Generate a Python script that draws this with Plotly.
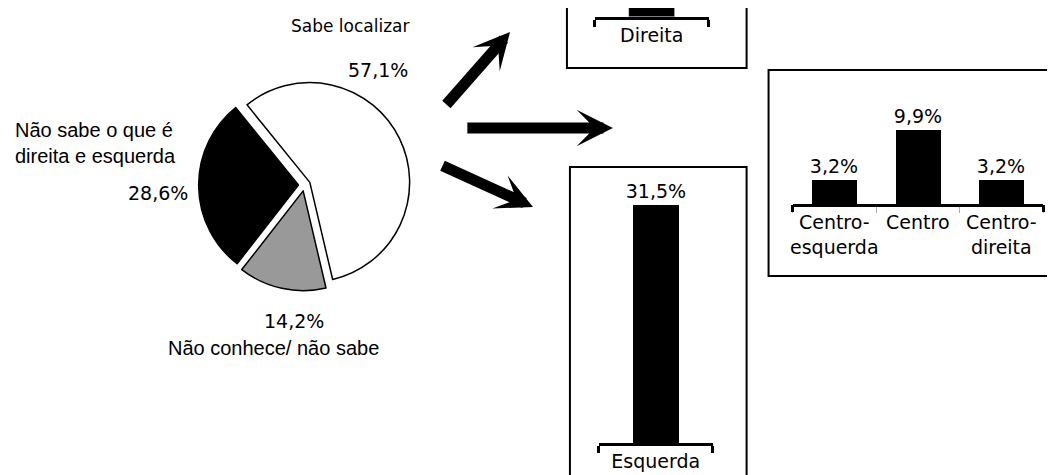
import plotly.graph_objects as go

W, H = 1055, 475

# pie: share that knows where to place itself
pie_labels = ["Sabe localizar", "Não conhece/ não sabe", "Não sabe o que é direita e esquerda"]
pie_values = [57.1, 14.2, 28.6]
pie_colors = ["white", "#999999", "black"]

# bars (same % scale in all three boxes)
esq_cat = ["Esquerda"]
esq_val = [31.5]
dir_cat = ["Direita"]
dir_val = [9.3]
centro_cat = ["Centro-<br>esquerda", "Centro", "Centro-<br>direita"]
centro_val = [3.2, 9.9, 3.2]

PCT_FONT = "DejaVu Sans"
LBL_FONT = "Liberation Sans"


def px(x):
    return x / W


def py(y):
    return 1 - y / H


fig = go.Figure()

fig.add_trace(go.Pie(
    labels=pie_labels, values=pie_values, sort=False, direction="clockwise",
    rotation=-39, pull=[0.06, 0.06, 0.06], textinfo="none", hoverinfo="label+percent",
    marker=dict(colors=pie_colors, line=dict(color="black", width=1.5)),
    domain=dict(x=[px(189), px(401)], y=[py(283), py(71)]),
    showlegend=False,
))

bar_style = dict(marker=dict(color="black", line=dict(width=0)), showlegend=False,
                 texttemplate="%{y:.1f}%", textposition="outside", cliponaxis=False,
                 constraintext="none",
                 textfont=dict(family=PCT_FONT, size=19, color="black"))

fig.add_trace(go.Bar(x=esq_cat, y=esq_val, width=0.4, xaxis="x", yaxis="y", **bar_style))
fig.add_trace(go.Bar(x=dir_cat, y=dir_val, width=0.4, xaxis="x2", yaxis="y2",
                     marker=dict(color="black"), showlegend=False))
fig.add_trace(go.Bar(x=centro_cat, y=centro_val, width=0.54, xaxis="x3", yaxis="y3", **bar_style))
# holder for the end brackets of the centro axis
fig.add_trace(go.Scatter(x=[], y=[], xaxis="x4", yaxis="y3", showlegend=False))

xcommon = dict(showline=True, linecolor="black", linewidth=3, ticks="outside",
               tickson="boundaries", ticklen=7, tickwidth=3, tickcolor="black",
               showgrid=False, zeroline=False, fixedrange=True, tickangle=0,
               ticklabelstandoff=-1,
               tickfont=dict(family=PCT_FONT, size=19, color="black"))
ycommon = dict(visible=False, fixedrange=True)

fig.update_layout(
    width=W, height=H, margin=dict(l=0, r=0, t=0, b=0),
    paper_bgcolor="white", plot_bgcolor="rgba(0,0,0,0)",
    separators=",.", bargap=0,
    xaxis=dict(domain=[px(590), px(704)], anchor="y", **xcommon),
    yaxis=dict(domain=[py(435), py(133)], range=[0, 40], anchor="x", **ycommon),
    xaxis2=dict(domain=[px(586), px(700)], anchor="y2", **xcommon),
    yaxis2=dict(domain=[py(9), 1], range=[0, 9 / 7.55], anchor="x2", **ycommon),
    xaxis3=dict(domain=[px(784), px(1035)], anchor="y3",
                **{**xcommon, "tickcolor": "#aaaaaa", "tickwidth": 1, "ticklen": 6}),
    yaxis3=dict(domain=[py(196), py(106)], range=[0, 12], anchor="x3", **ycommon),
    xaxis4=dict(overlaying="x3", anchor="y3", range=[-0.5, 2.5], type="linear",
                tickvals=[-0.5, 2.5], ticks="outside", ticklen=7, tickwidth=3,
                tickcolor="black", showticklabels=False, showline=False,
                showgrid=False, zeroline=False, fixedrange=True),
)

# frames around the bar panels
for x0, y0, x1, y1 in [(558, -10, 738, 60), (561, 159, 738, 473), (760, 62, 1052, 268)]:
    fig.add_shape(type="rect", xref="paper", yref="paper",
                  x0=px(x0), x1=px(x1), y0=py(y1), y1=py(y0),
                  line=dict(color="black", width=2), fillcolor="rgba(0,0,0,0)", layer="below")

# arrows from the pie to the panels
for tx, ty, ax, ay in [(501, 24, -65, 74), (604, 120, -147, 0), (524, 199, -92, -42)]:
    fig.add_annotation(x=px(tx), y=py(ty), xref="paper", yref="paper", text="",
                       showarrow=True, arrowhead=3, arrowwidth=11, arrowsize=0.55,
                       arrowcolor="black", ax=ax, ay=ay, standoff=0)

pct = dict(family=PCT_FONT, size=19, color="black")
word = dict(family=PCT_FONT, size=17, color="black")
lbl = dict(family=LBL_FONT, size=20, color="black")
texts = [
    ("Sabe localizar", 341, 18, "center", word),
    ("57,1%", 369, 62, "center", pct),
    ("Não sabe o que é<br>direita e esquerda", 3, 135, "left", lbl),
    ("28,6%", 180, 185, "right", pct),
    ("14,2%", 285, 313, "center", pct),
    ("Não conhece/ não sabe", 264, 340, "center", lbl),
]
for t, x, y, anchor, f in texts:
    fig.add_annotation(x=px(x), y=py(y), xref="paper", yref="paper", text=t,
                       showarrow=False, xanchor=anchor, yanchor="middle", align="left",
                       font=f)

fig.write_html("out.html")
